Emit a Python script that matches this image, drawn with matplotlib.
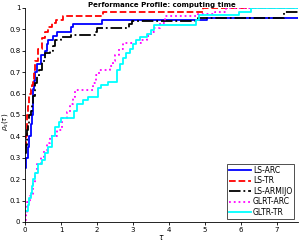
import matplotlib
matplotlib.use("Agg")
import matplotlib.pyplot as plt

# performance profile data (tau, rho), step curves
tau_arc = [0, 0.03, 0.07, 0.12, 0.16, 0.19, 0.21, 0.23, 0.25, 0.28, 0.32, 0.44,
           0.56, 0.60, 0.65, 0.79, 0.88, 1.27, 1.32, 2.13, 5.05, 7.6]
rho_arc = [0.25, 0.30, 0.35, 0.40, 0.46, 0.50, 0.56, 0.62, 0.66, 0.70, 0.74, 0.78,
           0.80, 0.83, 0.85, 0.87, 0.89, 0.91, 0.925, 0.944, 0.955, 0.955]

tau_tr = [0, 0.02, 0.04, 0.06, 0.08, 0.10, 0.12, 0.15, 0.18, 0.21, 0.25, 0.28,
          0.37, 0.46, 0.55, 0.65, 0.75, 0.85, 1.06, 2.17, 4.94, 7.6]
rho_tr = [0.35, 0.40, 0.45, 0.50, 0.54, 0.57, 0.60, 0.62, 0.64, 0.67, 0.71, 0.75,
          0.81, 0.86, 0.89, 0.91, 0.93, 0.945, 0.964, 0.983, 1.0, 1.0]

tau_armijo = [0, 0.02, 0.04, 0.06, 0.08, 0.10, 0.12, 0.16, 0.19, 0.23, 0.28, 0.32,
              0.40, 0.46, 0.56, 0.69, 0.79, 0.83, 1.0, 1.28, 1.94, 2.0, 2.9, 2.97,
              4.8, 7.2, 7.6]
rho_armijo = [0.32, 0.36, 0.40, 0.43, 0.46, 0.48, 0.50, 0.52, 0.55, 0.59, 0.65, 0.68,
              0.71, 0.75, 0.79, 0.80, 0.82, 0.85, 0.863, 0.874, 0.89, 0.905, 0.925, 0.94,
              0.955, 0.98, 0.98]

tau_glrt = [0, 0.03, 0.05, 0.06, 0.14, 0.21, 0.28, 0.32, 0.44, 0.53, 0.60, 0.69,
            0.88, 1.02, 1.16, 1.25, 1.34, 1.39, 1.90, 1.97, 2.06, 2.36, 2.44, 2.5,
            2.6, 2.73, 3.24, 3.38, 3.5, 3.6, 3.75, 3.9, 4.8, 5.3, 5.6, 7.6]
rho_glrt = [0.01, 0.03, 0.056, 0.095, 0.12, 0.18, 0.23, 0.27, 0.305, 0.33, 0.37, 0.40,
            0.43, 0.485, 0.515, 0.55, 0.585, 0.617, 0.65, 0.687, 0.71, 0.73, 0.75, 0.78,
            0.81, 0.838, 0.85, 0.87, 0.89, 0.905, 0.93, 0.964, 0.97, 0.983, 1.0, 1.0]

tau_gltr = [0, 0.08, 0.12, 0.16, 0.19, 0.23, 0.28, 0.37, 0.46, 0.56, 0.65, 0.74,
            0.83, 0.93, 1.0, 1.36, 1.45, 1.6, 1.76, 2.02, 2.1, 2.32, 2.55, 2.64,
            2.73, 2.82, 2.92, 3.0, 3.1, 3.2, 3.38, 3.5, 3.58, 4.77, 4.85, 5.95,
            6.3, 7.6]
rho_gltr = [0.05, 0.08, 0.11, 0.135, 0.17, 0.20, 0.23, 0.27, 0.29, 0.32, 0.35, 0.40,
            0.445, 0.465, 0.485, 0.52, 0.55, 0.57, 0.585, 0.625, 0.64, 0.655, 0.71, 0.74,
            0.765, 0.79, 0.81, 0.83, 0.85, 0.866, 0.88, 0.895, 0.92, 0.944, 0.965, 0.98,
            1.0, 1.0]

fig = plt.figure(figsize=(2.99, 2.42), dpi=100)
ax = fig.add_axes([0.084, 0.083, 0.913, 0.884])

lw = 1.3
ax.plot(tau_arc, rho_arc, drawstyle='steps-post', color='#0000ff', ls='-', lw=lw, label='LS-ARC')
ax.plot(tau_tr, rho_tr, drawstyle='steps-post', color='#ff0000', ls='--', lw=lw, label='LS-TR')
ax.plot(tau_armijo, rho_armijo, drawstyle='steps-post', color='k', ls='-.', lw=lw, label='LS-ARMIJO')
ax.plot(tau_glrt, rho_glrt, drawstyle='steps-post', color='#ff00ff', ls=':', lw=lw, label='GLRT-ARC')
ax.plot(tau_gltr, rho_gltr, drawstyle='steps-post', color='#00ffff', ls='-', lw=lw, label='GLTR-TR')

ax.set_xlim(0, 7.6)
ax.set_ylim(0, 1)
ax.set_xticks(range(8))
ax.set_yticks([0, 0.1, 0.2, 0.3, 0.4, 0.5, 0.6, 0.7, 0.8, 0.9, 1])
ax.set_yticklabels(['0', '0.1', '0.2', '0.3', '0.4', '0.5', '0.6', '0.7', '0.8', '0.9', '1'])
ax.tick_params(direction='out', length=2, width=0.6, labelsize=5, pad=1.5)
ax.spines['top'].set_visible(False)
ax.spines['right'].set_visible(False)
for s in ['left', 'bottom']:
    ax.spines[s].set_linewidth(0.6)

ax.set_title('Performance Profile: computing time', fontsize=5, fontweight='bold', pad=0.5)
ax.set_xlabel(r'$\tau$', fontsize=5.5, labelpad=0.5)
ax.set_ylabel(r'$\rho_s(\tau)$', fontsize=5)
ax.yaxis.set_label_coords(-0.056, 0.47)

leg = ax.legend(loc='lower right', bbox_to_anchor=(0.985, 0.015), fontsize=5.5,
                frameon=True, fancybox=False, edgecolor='k', handlelength=2.8,
                handletextpad=0.3, labelspacing=0.2, borderpad=0.25, borderaxespad=0)
leg.get_frame().set_linewidth(0.6)

fig.savefig('out.png', dpi=100)
